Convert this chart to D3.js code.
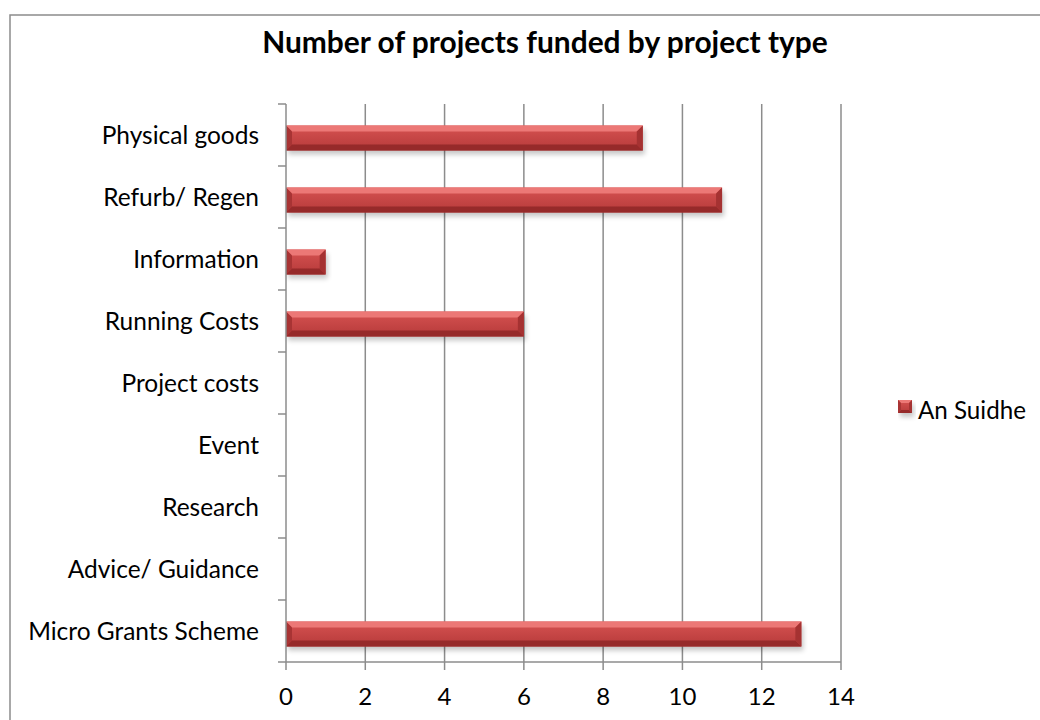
<!DOCTYPE html>
<html lang="en">
<head>
  <meta charset="UTF-8">
  <title>Number of projects funded by project type</title>
  <style>
    body { margin: 0; background: #fff; }
    text { font-family: Lato, "Open Sans", sans-serif; fill: #000; }
  </style>
</head>
<body>
  <svg id="svg" width="1040" height="720"></svg>

  <script src="https://d3js.org/d3.v7.min.js"></script>
  <script>
    const categories = ['Physical goods', 'Refurb/ Regen', 'Information', 'Running Costs',
      'Project costs', 'Event', 'Research', 'Advice/ Guidance', 'Micro Grants Scheme']
    const values = [9, 11, 1, 6, 0, 0, 0, 0, 13]
    const xTicks = [0, 2, 4, 6, 8, 10, 12, 14]
    const seriesName = 'An Suidhe'
    const title = 'Number of projects funded by project type'

    const svg = d3.select('#svg')
    const grid = '#8c8c8c'

    // chart frame
    svg.append('rect')
      .attr('x', 10).attr('y', 15)
      .attr('width', 1040).attr('height', 720)
      .attr('fill', '#fff').attr('stroke', grid).attr('stroke-width', 1.5)

    const xScale = d3.scaleLinear().domain([0, 14]).range([286, 841])
    const yScale = d3.scaleBand().domain(categories).range([104, 662])

    // shadow filter + gradients
    const defs = svg.append('defs')
    const f = defs.append('filter').attr('id', 'shadow')
      .attr('x', '-10%').attr('y', '-30%').attr('width', '120%').attr('height', '180%')
    f.append('feGaussianBlur').attr('stdDeviation', 2.5)
    const g = defs.append('linearGradient').attr('id', 'face')
      .attr('x1', 0).attr('y1', 0).attr('x2', 0).attr('y2', 1)
    g.append('stop').attr('offset', '0%').attr('stop-color', '#d65251')
    g.append('stop').attr('offset', '100%').attr('stop-color', '#b63a3a')

    // vertical gridlines
    svg.append('g').selectAll('line')
      .data(xTicks.slice(1))
      .join('line')
      .attr('x1', d => xScale(d)).attr('x2', d => xScale(d))
      .attr('y1', 104).attr('y2', 662)
      .attr('stroke', grid).attr('stroke-width', 1.5)

    function bevelBar(sel, x0, y0, w, h, b) {
      const x1 = x0 + w, y1 = y0 + h
      sel.append('rect').attr('x', x0 + 2).attr('y', y0 + 4).attr('width', w).attr('height', h)
        .attr('fill', '#000').attr('opacity', 0.22).attr('filter', 'url(#shadow)')
      sel.append('rect').attr('x', x0).attr('y', y0).attr('width', w).attr('height', h)
        .attr('fill', 'url(#face)')
      const poly = (pts, c) => sel.append('polygon')
        .attr('points', pts.map(p => p.join(',')).join(' ')).attr('fill', c)
      poly([[x0, y0], [x1, y0], [x1 - b, y0 + b], [x0 + b, y0 + b]], '#ec7876')
      poly([[x0, y1], [x1, y1], [x1 - b, y1 - b], [x0 + b, y1 - b]], '#962a2a')
      poly([[x0, y0], [x0 + b, y0 + b], [x0 + b, y1 - b], [x0, y1]], '#a83434')
      poly([[x1, y0], [x1 - b, y0 + b], [x1 - b, y1 - b], [x1, y1]], '#a53232')
    }

    // bars
    const barH = 25
    categories.forEach((c, i) => {
      if (values[i] <= 0) return
      const x0 = xScale(0)
      const w = xScale(values[i]) - x0
      const y0 = yScale(c) + yScale.bandwidth() / 2 - barH / 2 + 3
      bevelBar(svg.append('g'), x0, y0, w, barH, 6)
    })

    // axes
    const yAxis = svg.append('g')
    yAxis.append('line').attr('x1', 286).attr('x2', 286).attr('y1', 104).attr('y2', 662)
      .attr('stroke', grid).attr('stroke-width', 1.5)
    yAxis.selectAll('line.tk')
      .data(d3.range(categories.length + 1))
      .join('line').attr('class', 'tk')
      .attr('x1', 278).attr('x2', 286)
      .attr('y1', i => 104 + i * yScale.step()).attr('y2', i => 104 + i * yScale.step())
      .attr('stroke', grid).attr('stroke-width', 1.5)

    const xAxis = svg.append('g')
    xAxis.append('line').attr('x1', 286).attr('x2', 841).attr('y1', 662).attr('y2', 662)
      .attr('stroke', grid).attr('stroke-width', 1.5)
    xAxis.selectAll('line.tk')
      .data(xTicks)
      .join('line').attr('class', 'tk')
      .attr('x1', d => xScale(d)).attr('x2', d => xScale(d))
      .attr('y1', 662).attr('y2', 670)
      .attr('stroke', grid).attr('stroke-width', 1.5)
    xAxis.selectAll('text')
      .data(xTicks)
      .join('text')
      .attr('x', d => xScale(d)).attr('y', 705)
      .attr('text-anchor', 'middle')
      .attr('font-size', 24)
      .text(d => d)

    // category labels
    const labels = svg.append('g').selectAll('text')
      .data(categories)
      .join('text')
      .attr('x', 259)
      .attr('y', d => yScale(d) + yScale.bandwidth() / 2 + 9)
      .attr('text-anchor', 'end')
      .attr('font-size', 20)
      .text(d => d)

    // title
    const t = svg.append('text')
      .attr('x', 545).attr('y', 53)
      .attr('text-anchor', 'middle')
      .attr('font-size', 24).attr('font-weight', 'bold')
      .text(title)

    // legend
    const lg = svg.append('g')
    bevelBar(lg, 898, 400, 14, 13, 3)
    const lt = lg.append('text').attr('x', 918).attr('y', 419)
      .attr('font-size', 20).text(seriesName)

    // fit font sizes to the widths seen in the picture
    function fit(sel, target) {
      const fs = +sel.attr('font-size')
      const w = d3.max(sel.nodes(), n => n.getComputedTextLength())
      sel.attr('font-size', fs * target / w)
    }
    fit(t, 566)
    fit(labels, 231)
    fit(lt, 108)
  </script>
</body>
</html>
